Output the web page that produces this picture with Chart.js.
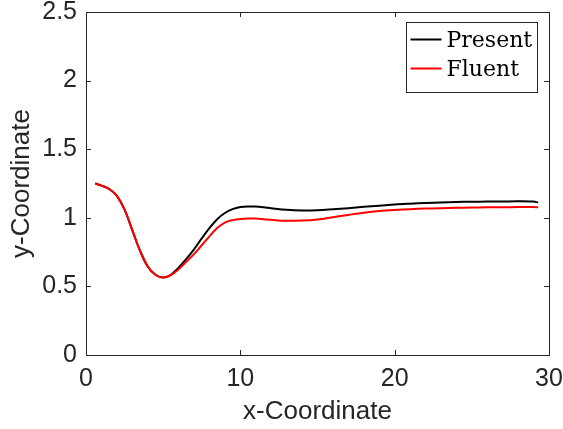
<!DOCTYPE html>
<html>
<head>
<meta charset="utf-8">
<script src="https://cdn.jsdelivr.net/npm/chart.js@4/dist/chart.umd.min.js"></script>
<style>
  html, body { margin: 0; padding: 0; background: #ffffff; }
  canvas { display: block; }
</style>
</head>
<body>
<canvas id="profile" width="563" height="429"></canvas>
<script>
// Surface profile: present solver vs. Fluent reference
const presentX = [0.6, 1.0, 1.5, 2.0, 2.5, 3.0, 3.5, 4.0, 4.5, 5.0, 5.5, 6.0, 6.5, 7.0, 7.5, 8.0, 8.5, 9.0, 9.5, 10.0, 10.5, 11.0, 11.5, 12.0, 13.0, 14.0, 15.0, 16.0, 17.0, 18.0, 19.0, 20.0, 21.0, 22.0, 23.0, 24.0, 25.0, 26.0, 27.0, 28.0, 29.0, 29.3];
const presentY = [1.25, 1.235, 1.21, 1.16, 1.06, 0.91, 0.76, 0.645, 0.585, 0.565, 0.585, 0.637, 0.70, 0.77, 0.85, 0.925, 0.99, 1.035, 1.063, 1.078, 1.083, 1.082, 1.077, 1.07, 1.058, 1.053, 1.055, 1.062, 1.07, 1.08, 1.088, 1.097, 1.103, 1.108, 1.112, 1.115, 1.117, 1.118, 1.119, 1.12, 1.118, 1.112];

const fluentX = [0.6, 1.0, 1.5, 2.0, 2.5, 3.0, 3.5, 4.0, 4.5, 5.0, 5.5, 6.0, 6.5, 7.0, 7.5, 8.0, 8.5, 9.0, 9.5, 10.0, 10.5, 11.0, 11.5, 12.0, 13.0, 14.0, 15.0, 16.0, 17.0, 18.0, 19.0, 20.0, 21.0, 22.0, 23.0, 24.0, 25.0, 26.0, 27.0, 28.0, 29.0, 29.3];
const fluentY = [1.25, 1.235, 1.21, 1.16, 1.06, 0.91, 0.76, 0.645, 0.585, 0.565, 0.583, 0.625, 0.68, 0.735, 0.80, 0.865, 0.925, 0.965, 0.983, 0.992, 0.995, 0.994, 0.99, 0.985, 0.978, 0.98, 0.988, 1.004, 1.021, 1.037, 1.049, 1.057, 1.063, 1.067, 1.07, 1.073, 1.075, 1.076, 1.077, 1.078, 1.078, 1.077];

const seriesNames = ['Present', 'Fluent'];
const seriesColors = ['#000000', '#ff0000'];

const xTicks = [0, 10, 20, 30];
const yTicks = [0, 0.5, 1, 1.5, 2, 2.5];

const axisColor = '#262626';
const sansFont = "'Liberation Sans', Arial, Helvetica, sans-serif";
const serifFont = "'DejaVu Serif', serif";

const toPoints = (xs, ys) => xs.map((v, i) => ({ x: v, y: ys[i] }));

// Box frame with inward tick marks on all four sides
const frameAndTicks = {
  id: 'frameAndTicks',
  afterDatasetsDraw(chart) {
    const { ctx, chartArea: a, scales: { x, y } } = chart;
    const len = 5;
    ctx.save();
    ctx.strokeStyle = axisColor;
    ctx.lineWidth = 1;
    ctx.beginPath();
    xTicks.forEach(v => {
      const px = Math.round(x.getPixelForValue(v)) + 0.5;
      ctx.moveTo(px, a.bottom); ctx.lineTo(px, a.bottom - len);
      ctx.moveTo(px, a.top); ctx.lineTo(px, a.top + len);
    });
    yTicks.forEach(v => {
      const py = Math.round(y.getPixelForValue(v)) + 0.5;
      ctx.moveTo(a.left, py); ctx.lineTo(a.left + len, py);
      ctx.moveTo(a.right, py); ctx.lineTo(a.right - len, py);
    });
    ctx.stroke();
    ctx.strokeRect(Math.round(a.left) + 0.5, Math.round(a.top) + 0.5,
                   Math.round(a.right - a.left), Math.round(a.bottom - a.top));
    ctx.restore();
  }
};

// Legend box in the upper-right corner of the plot area
const insetLegend = {
  id: 'insetLegend',
  afterDraw(chart) {
    const { ctx, chartArea: a } = chart;
    const boxW = 131, boxH = 70;
    const bx = Math.round(a.right - 12 - boxW) + 0.5;
    const by = Math.round(a.top + 10) + 0.5;
    ctx.save();
    ctx.fillStyle = '#ffffff';
    ctx.fillRect(bx, by, boxW, boxH);
    ctx.strokeStyle = axisColor;
    ctx.lineWidth = 1;
    ctx.strokeRect(bx, by, boxW, boxH);
    ctx.font = "22px " + serifFont;
    ctx.textBaseline = 'alphabetic';
    ctx.textAlign = 'left';
    chart.data.datasets.forEach((ds, i) => {
      const cy = by + 17 + i * 29;
      ctx.strokeStyle = ds.borderColor;
      ctx.lineWidth = 2;
      ctx.beginPath();
      ctx.moveTo(bx + 4, cy);
      ctx.lineTo(bx + 35, cy);
      ctx.stroke();
      ctx.fillStyle = '#000000';
      ctx.fillText(ds.label, bx + 40, cy + 7.5);
    });
    ctx.restore();
  }
};

new Chart(document.getElementById('profile'), {
  type: 'line',
  data: {
    datasets: [
      {
        label: seriesNames[0],
        data: toPoints(presentX, presentY),
        borderColor: seriesColors[0],
        borderWidth: 2,
        pointRadius: 0,
        fill: false,
        tension: 0.35,
        order: 1
      },
      {
        label: seriesNames[1],
        data: toPoints(fluentX, fluentY),
        borderColor: seriesColors[1],
        borderWidth: 2,
        pointRadius: 0,
        fill: false,
        tension: 0.35,
        order: 0
      }
    ]
  },
  options: {
    responsive: false,
    animation: false,
    events: [],
    layout: { padding: { top: 12, right: 14, left: 0, bottom: 0 } },
    plugins: {
      legend: { display: false },
      tooltip: { enabled: false }
    },
    scales: {
      x: {
        type: 'linear',
        min: 0,
        max: 30,
        afterBuildTicks: s => { s.ticks = xTicks.map(v => ({ value: v })); },
        afterFit: s => { s.height = 74; s.paddingLeft = 0; s.paddingRight = 0; },
        grid: { display: false, drawTicks: false },
        border: { display: false },
        ticks: {
          color: axisColor,
          padding: 9,
          maxRotation: 0,
          callback: v => String(v),
          font: { family: sansFont, size: 25 }
        },
        title: {
          display: true,
          text: 'x-Coordinate',
          color: axisColor,
          padding: { top: 0, bottom: 2 },
          font: { family: sansFont, size: 26 }
        }
      },
      y: {
        type: 'linear',
        min: 0,
        max: 2.5,
        afterBuildTicks: s => { s.ticks = yTicks.map(v => ({ value: v })); },
        afterFit: s => { s.width = 86; s.paddingTop = 0; s.paddingBottom = 0; },
        grid: { display: false, drawTicks: false },
        border: { display: false },
        ticks: {
          color: axisColor,
          padding: 9,
          callback: v => String(v),
          font: { family: sansFont, size: 25 }
        },
        title: {
          display: true,
          text: 'y-Coordinate',
          color: axisColor,
          padding: { top: 6, bottom: 0 },
          font: { family: sansFont, size: 26 }
        }
      }
    }
  },
  plugins: [frameAndTicks, insetLegend]
});
</script>
</body>
</html>
